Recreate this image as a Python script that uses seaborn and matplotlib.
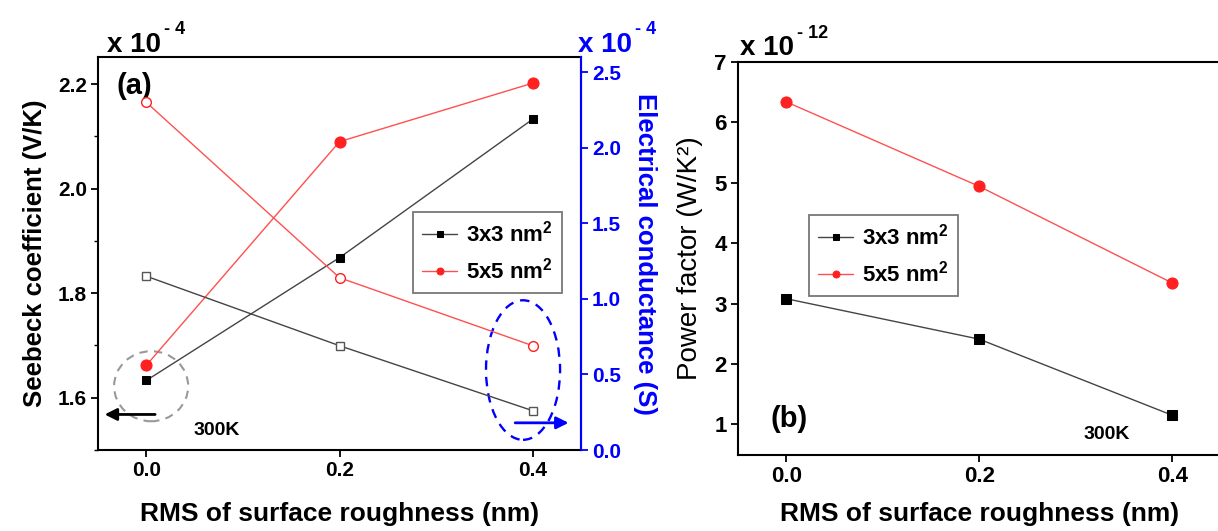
import matplotlib
matplotlib.use("Agg")
import matplotlib.pyplot as plt
from matplotlib.patches import Ellipse
from matplotlib.ticker import MultipleLocator, FormatStrFormatter
import seaborn as sns
import pandas as pd

# ---------------- data ----------------
roughness = [0.0, 0.2, 0.4]
series_labels = ["3x3 nm$^2$", "5x5 nm$^2$"]
# Seebeck coefficient (x1e-4 V/K), left axis, filled markers
seebeck_3x3 = [1.633, 1.868, 2.133]
seebeck_5x5 = [1.662, 2.090, 2.202]
# Electrical conductance (x1e-4 S), right axis, open markers
cond_3x3 = [1.15, 0.69, 0.26]
cond_5x5 = [2.30, 1.14, 0.69]
# Power factor (x1e-12 W/K^2)
pf_3x3 = [3.08, 2.41, 1.15]
pf_5x5 = [6.34, 4.94, 3.34]

sns.set_style("ticks")
plt.rcParams["font.family"] = ["Liberation Sans", "DejaVu Sans"]
plt.rcParams["mathtext.fontset"] = "custom"
plt.rcParams["mathtext.rm"] = "Liberation Sans:bold"
plt.rcParams["mathtext.bf"] = "Liberation Sans:bold"
plt.rcParams["mathtext.it"] = "Liberation Sans:bold"
for k in ("text.color", "axes.labelcolor", "xtick.color", "ytick.color", "axes.edgecolor"):
    plt.rcParams[k] = "black"

W, H = 1218, 531
fig = plt.figure(figsize=(W / 100, H / 100), dpi=100)

def frac(x0, x1, ytop, ybot):
    return [x0 / W, 1 - ybot / H, (x1 - x0) / W, (ybot - ytop) / H]

BLACK = "#000000"
LINE_BLACK = "#444444"
RED = "#ff2020"
LINE_RED = "#ff5050"
BLUE = "#0000ff"

# ---------------- panel (a) ----------------
axa = fig.add_axes(frac(98, 581, 57, 450))
axr = axa.twinx()

df_s3 = pd.DataFrame({"x": roughness, "y": seebeck_3x3})
df_s5 = pd.DataFrame({"x": roughness, "y": seebeck_5x5})
df_c3 = pd.DataFrame({"x": roughness, "y": cond_3x3})
df_c5 = pd.DataFrame({"x": roughness, "y": cond_5x5})

sns.lineplot(data=df_s3, x="x", y="y", ax=axa, color=LINE_BLACK, lw=1.0,
             marker="s", markersize=6, markerfacecolor=BLACK, markeredgecolor=BLACK,
             label=series_labels[0])
sns.lineplot(data=df_s5, x="x", y="y", ax=axa, color=LINE_RED, lw=1.0,
             marker="o", markersize=8, markerfacecolor=RED, markeredgecolor=RED,
             label=series_labels[1])
sns.lineplot(data=df_c3, x="x", y="y", ax=axr, color=LINE_BLACK, lw=1.0,
             marker="s", markersize=6, markerfacecolor="white", markeredgecolor="#555555",
             markeredgewidth=1.0, legend=False)
sns.lineplot(data=df_c5, x="x", y="y", ax=axr, color=LINE_RED, lw=1.0,
             marker="o", markersize=7, markerfacecolor="white", markeredgecolor=RED,
             markeredgewidth=1.0, legend=False)

axa.set_xlim(-0.05, 0.45)
axa.set_ylim(1.5, 2.252)
axr.set_ylim(0, 2.6)
axa.set_xticks(roughness)
axa.set_yticks([1.6, 1.8, 2.0, 2.2])
axa.yaxis.set_minor_locator(MultipleLocator(0.1))
axr.set_yticks([0.0, 0.5, 1.0, 1.5, 2.0, 2.5])
axa.xaxis.set_major_formatter(FormatStrFormatter("%.1f"))
axa.yaxis.set_major_formatter(FormatStrFormatter("%.1f"))
axr.yaxis.set_major_formatter(FormatStrFormatter("%.1f"))

for ax in (axa, axr):
    for s in ax.spines.values():
        s.set_linewidth(1.5)
        s.set_visible(True)
axr.spines["right"].set_color(BLUE)
axr.spines["left"].set_visible(False)
axr.spines["top"].set_visible(False)
axr.spines["bottom"].set_visible(False)

axa.tick_params(axis="both", which="major", direction="out", length=5, width=1.3,
                labelsize=15, pad=3, colors="black")
axa.tick_params(axis="y", which="minor", direction="out", length=3, width=1.0, colors="black")
axr.tick_params(axis="y", which="major", direction="out", length=5, width=1.3,
                colors=BLUE, labelsize=15, pad=3)
for lab in axa.get_xticklabels() + axa.get_yticklabels():
    lab.set_fontweight("bold")
for lab in axr.get_yticklabels():
    lab.set_fontweight("bold")
    lab.set_color(BLUE)

axa.set_xlabel("RMS of surface roughness (nm)", fontsize=19, fontweight="bold", labelpad=16,
               color="black")
axa.set_ylabel("Seebeck coefficient (V/K)", fontsize=18.5, fontweight="bold", labelpad=8,
               color="black")
axr.set_ylabel("Electrical conductance (S)", fontsize=18.5, fontweight="bold", color=BLUE,
               rotation=270, labelpad=26)

leg = axa.legend(loc="upper left", bbox_to_anchor=(0.652, 0.606), frameon=True,
                 fancybox=False, edgecolor="#555555", fontsize=16, handlelength=1.6,
                 handletextpad=0.4, borderpad=0.4, labelspacing=0.5, borderaxespad=0)
leg.get_frame().set_linewidth(1.3)
for t in leg.get_texts():
    t.set_fontweight("bold")
    t.set_color("black")
for h in leg.legend_handles:
    h.set_markersize(5)

axa.text(0.075, 0.925, "(a)", transform=axa.transAxes, fontsize=21, fontweight="bold",
         ha="center", va="center", color="black")
axa.text(0.245, 0.05, "300K", transform=axa.transAxes, fontsize=14, fontweight="bold",
         ha="center", va="center", color="black")

axa.add_patch(Ellipse((0.005, 1.622), 0.0767, 0.134, fill=False, edgecolor="#999999",
                      lw=1.5, ls=(0, (4, 3))))
axa.add_patch(Ellipse((0.39, 1.653), 0.0767, 0.267, fill=False, edgecolor=BLUE,
                      lw=1.7, ls=(0, (4, 3))))
axa.annotate("", xy=(-0.046, 1.568), xytext=(0.012, 1.568),
             arrowprops=dict(arrowstyle="-|>", color="black", lw=2, mutation_scale=18))
axa.annotate("", xy=(0.44, 1.552), xytext=(0.379, 1.552),
             arrowprops=dict(arrowstyle="-|>", color=BLUE, lw=2, mutation_scale=18))

fig.text(107 / W, 1 - 45 / H, "x 10", fontsize=20, fontweight="bold", va="center", ha="left",
         color="black")
fig.text(164 / W, 1 - 30 / H, "- 4", fontsize=13, fontweight="bold", va="center", ha="left",
         color="black")
fig.text(578 / W, 1 - 45 / H, "x 10", fontsize=20, fontweight="bold", va="center", ha="left",
         color=BLUE)
fig.text(635 / W, 1 - 30 / H, "- 4", fontsize=13, fontweight="bold", va="center", ha="left",
         color=BLUE)

# ---------------- panel (b) ----------------
axb = fig.add_axes(frac(738, 1220.5, 62, 454.5))
df_p3 = pd.DataFrame({"x": roughness, "y": pf_3x3})
df_p5 = pd.DataFrame({"x": roughness, "y": pf_5x5})
sns.lineplot(data=df_p3, x="x", y="y", ax=axb, color=LINE_BLACK, lw=1.0,
             marker="s", markersize=7, markerfacecolor=BLACK, markeredgecolor=BLACK,
             label=series_labels[0])
sns.lineplot(data=df_p5, x="x", y="y", ax=axb, color=LINE_RED, lw=1.0,
             marker="o", markersize=8, markerfacecolor=RED, markeredgecolor=RED,
             label=series_labels[1])
axb.set_xlim(-0.05, 0.45)
axb.set_ylim(0.5, 7)
axb.set_xticks(roughness)
axb.set_yticks([1, 2, 3, 4, 5, 6, 7])
axb.xaxis.set_major_formatter(FormatStrFormatter("%.1f"))
for s in axb.spines.values():
    s.set_linewidth(1.5)
    s.set_color("black")
axb.tick_params(axis="both", which="major", direction="out", length=5, width=1.3,
                labelsize=16, pad=3, colors="black")
for lab in axb.get_xticklabels() + axb.get_yticklabels():
    lab.set_fontweight("bold")
axb.set_xlabel("RMS of surface roughness (nm)", fontsize=19, fontweight="bold", labelpad=11,
               color="black")
axb.set_ylabel("Power factor (W/K²)", fontsize=20, labelpad=8, color="black")

legb = axb.legend(loc="upper left", bbox_to_anchor=(0.147, 0.61), frameon=True,
                  fancybox=False, edgecolor="#555555", fontsize=16, handlelength=1.6,
                  handletextpad=0.4, borderpad=0.4, labelspacing=0.5, borderaxespad=0)
legb.get_frame().set_linewidth(1.3)
for t in legb.get_texts():
    t.set_fontweight("bold")
    t.set_color("black")
for h in legb.legend_handles:
    h.set_markersize(5)

axb.text(0.105, 0.09, "(b)", transform=axb.transAxes, fontsize=21, fontweight="bold",
         ha="center", va="center", color="black")
axb.text(0.765, 0.05, "300K", transform=axb.transAxes, fontsize=14, fontweight="bold",
         ha="center", va="center", color="black")

fig.text(740 / W, 1 - 48 / H, "x 10", fontsize=20, fontweight="bold", va="center", ha="left",
         color="black")
fig.text(797 / W, 1 - 33 / H, "- 12", fontsize=13, fontweight="bold", va="center", ha="left",
         color="black")

fig.savefig("out.png", dpi=100)
